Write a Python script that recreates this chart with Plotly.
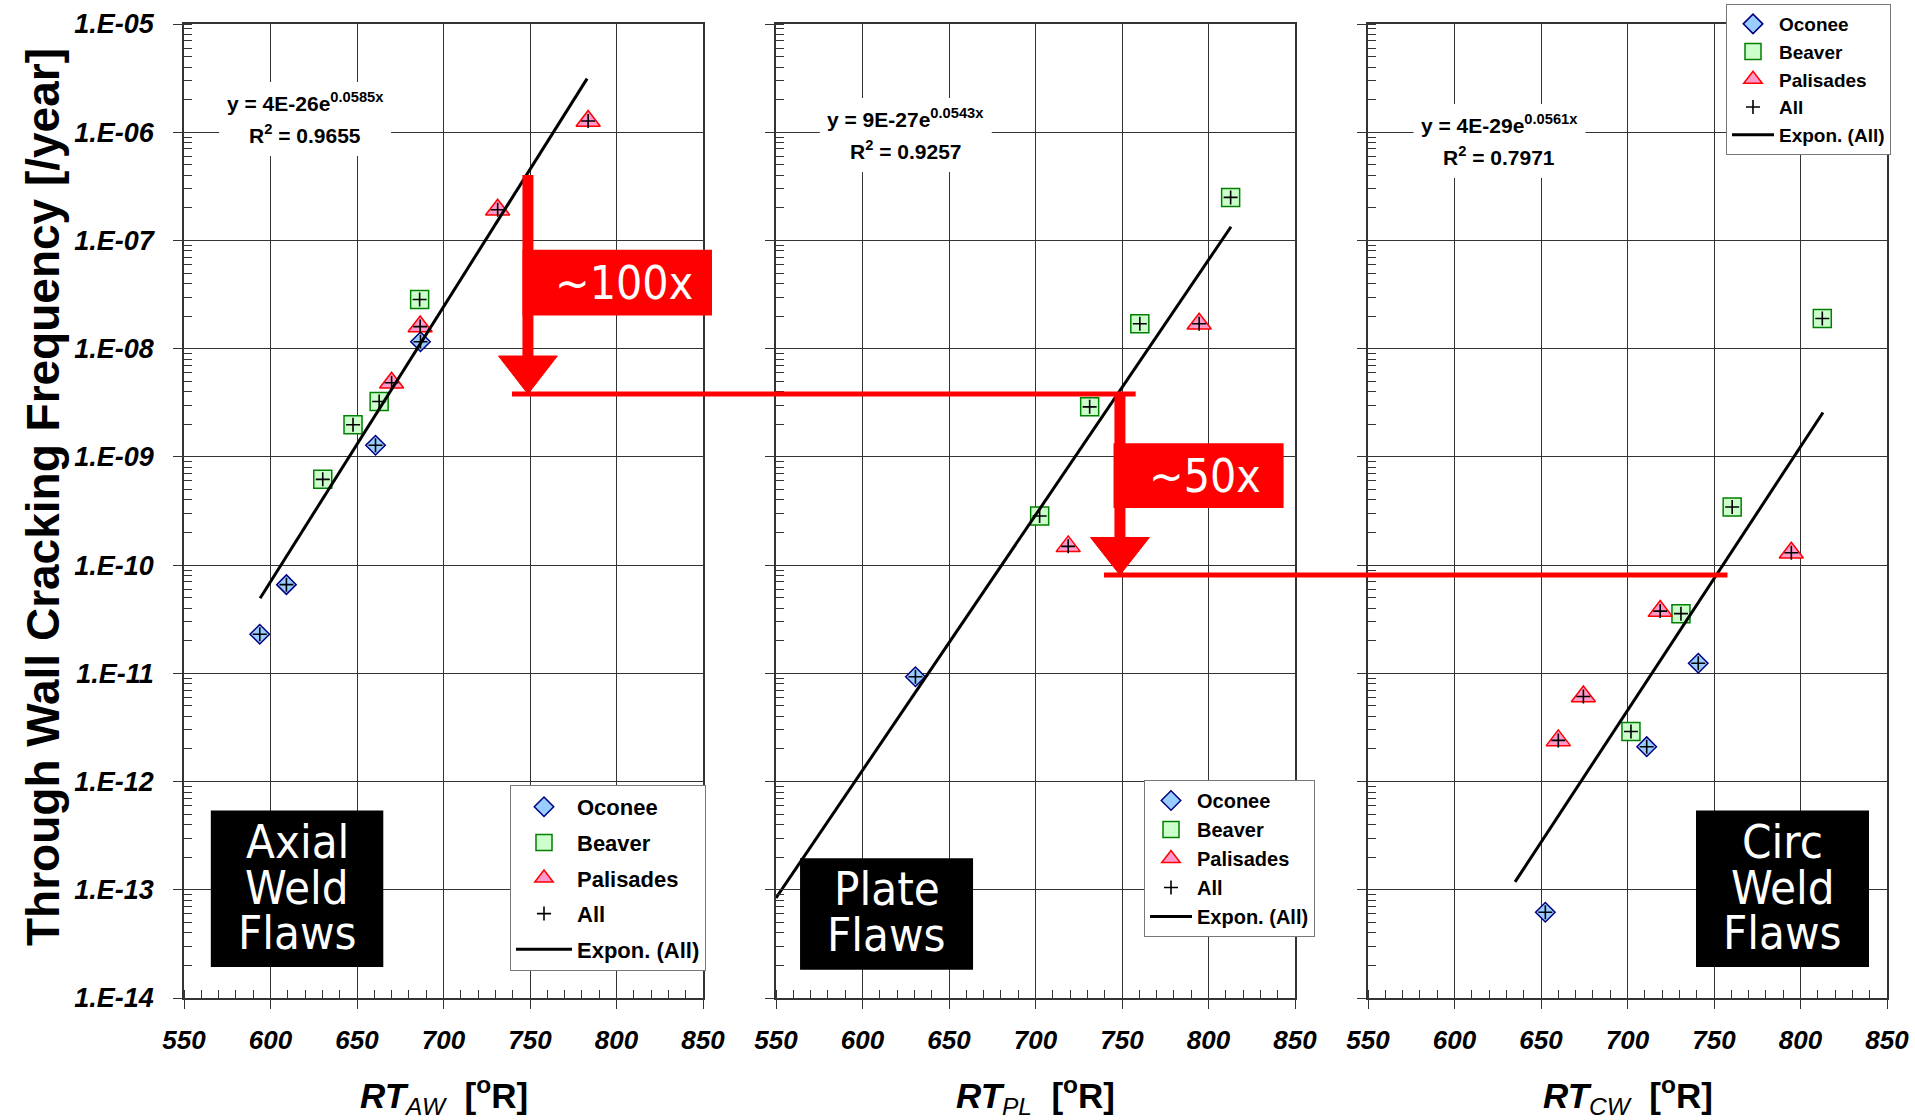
import numpy as np
import plotly.graph_objects as go

# ---------------- data ----------------
SERIES = ["Oconee", "Beaver", "Palisades"]

# Panel 1 : Axial weld flaws
AW_OCONEE_X = [593.8, 609.2, 660.7, 686.7]
AW_OCONEE_Y = [2.3e-11, 6.6e-11, 1.28e-9, 1.16e-8]
AW_BEAVER_X = [630.2, 647.7, 662.8, 686.2]
AW_BEAVER_Y = [6.2e-10, 1.98e-9, 3.25e-9, 2.85e-8]
AW_PALIS_X = [670.0, 686.5, 731.3, 783.6]
AW_PALIS_Y = [4.85e-9, 1.6e-8, 1.92e-7, 1.27e-6]

# Panel 2 : Plate flaws
PL_OCONEE_X = [630.6]
PL_OCONEE_Y = [9.3e-12]
PL_BEAVER_X = [702.4, 731.3, 760.3, 812.8]
PL_BEAVER_Y = [2.84e-10, 2.9e-9, 1.7e-8, 2.5e-7]
PL_PALIS_X = [718.9, 794.6]
PL_PALIS_Y = [1.49e-10, 1.7e-8]

# Panel 3 : Circ weld flaws
CW_OCONEE_X = [652.5, 711.1, 740.9]
CW_OCONEE_Y = [6.2e-14, 2.1e-12, 1.24e-11]
CW_BEAVER_X = [702.0, 730.9, 760.5, 812.6]
CW_BEAVER_Y = [2.9e-12, 3.56e-11, 3.44e-10, 1.9e-8]
CW_PALIS_X = [660.0, 674.5, 718.9, 794.7]
CW_PALIS_Y = [2.4e-12, 6.1e-12, 3.76e-11, 1.3e-10]

# Exponential trend lines as printed on the chart (y = A e^(B x))
TREND_A = [4e-26, 9e-27, 4e-29]
TREND_B = [0.0585, 0.0543, 0.0561]
TREND_X_START = [594, 550, 635]
TREND_X_END = [783, 813, 813]
TREND_A_TXT = ["4E-26", "9E-27", "4E-29"]
TREND_B_TXT = ["0.0585", "0.0543", "0.0561"]
R2_TXT = ["0.9655", "0.9257", "0.7971"]

PANEL_LABELS = [["Axial", "Weld", "Flaws"], ["Plate", "Flaws"], ["Circ", "Weld", "Flaws"]]
X_SUBS = ["AW", "PL", "CW"]

X_TICKS = [550, 600, 650, 700, 750, 800, 850]
Y_TICKS = [1e-14, 1e-13, 1e-12, 1e-11, 1e-10, 1e-9, 1e-8, 1e-7, 1e-6, 1e-5]
Y_TICK_TEXT = ["1.E-14", "1.E-13", "1.E-12", "1.E-11", "1.E-10",
               "1.E-09", "1.E-08", "1.E-07", "1.E-06", "1.E-05"]

FACTOR_TXT = ["~100x", "~50x"]

PANEL_DATA = [
    [(AW_OCONEE_X, AW_OCONEE_Y), (AW_BEAVER_X, AW_BEAVER_Y), (AW_PALIS_X, AW_PALIS_Y)],
    [(PL_OCONEE_X, PL_OCONEE_Y), (PL_BEAVER_X, PL_BEAVER_Y), (PL_PALIS_X, PL_PALIS_Y)],
    [(CW_OCONEE_X, CW_OCONEE_Y), (CW_BEAVER_X, CW_BEAVER_Y), (CW_PALIS_X, CW_PALIS_Y)],
]

# ---------------- styling ----------------
W, H = 1915, 1120
X_DOMAINS = [[184 / W, 703 / W], [776 / W, 1295 / W], [1368 / W, 1887 / W]]
Y_DOMAIN = [1 - 998 / H, 1 - 24 / H]
X_RANGE = [550, 850]
Y_LOG_RANGE = [-14, -5]

ARIAL = "Liberation Sans, Arial, sans-serif"
NARROW = "DejaVu Sans Condensed, DejaVu Sans, sans-serif"
GRID = "#333333"
RED = "#ff0000"

MARKERS = [
    dict(symbol="diamond", size=15, color="#99ccff", line=dict(color="#000080", width=1.5)),
    dict(symbol="square", size=18, color="#ccffcc", line=dict(color="#008000", width=1.5)),
    dict(symbol="triangle-up", size=21, color="#ff99cc", line=dict(color="#ff0000", width=1.5)),
]

LEGENDS = ["legend", "legend2", "legend3"]


def px(panel, xv):
    d = X_DOMAINS[panel]
    return d[0] + (xv - X_RANGE[0]) / (X_RANGE[1] - X_RANGE[0]) * (d[1] - d[0])


def py(yv):
    return Y_DOMAIN[0] + (np.log10(yv) - Y_LOG_RANGE[0]) / (Y_LOG_RANGE[1] - Y_LOG_RANGE[0]) * (Y_DOMAIN[1] - Y_DOMAIN[0])


def py_px(pix):
    # paper y of a pixel row measured from the top of the figure
    return 1 - pix / H


fig = go.Figure()

for p in range(3):
    xa = "x" if p == 0 else f"x{p + 1}"
    ya = "y" if p == 0 else f"y{p + 1}"
    leg = LEGENDS[p]
    all_x, all_y = [], []
    for s, (sx, sy) in enumerate(PANEL_DATA[p]):
        fig.add_trace(go.Scatter(
            x=sx, y=sy, mode="markers", name=SERIES[s], marker=MARKERS[s],
            xaxis=xa, yaxis=ya, legend=leg, legendgroup=f"{leg}_{s}",
        ))
        all_x += list(sx)
        all_y += list(sy)
    fig.add_trace(go.Scatter(
        x=all_x, y=all_y, mode="markers", name="All",
        marker=dict(symbol="cross-thin-open", size=10, color="black",
                    line=dict(color="black", width=1.6)),
        xaxis=xa, yaxis=ya, legend=leg, legendgroup=f"{leg}_all",
    ))
    tx = np.linspace(TREND_X_START[p], TREND_X_END[p], 60)
    fig.add_trace(go.Scatter(
        x=tx, y=TREND_A[p] * np.exp(TREND_B[p] * tx), mode="lines",
        name="Expon. (All)", line=dict(color="black", width=3),
        xaxis=xa, yaxis=ya, legend=leg, legendgroup=f"{leg}_fit",
    ))

axis_common = dict(showline=True, linecolor="#333", linewidth=1.5, mirror=True,
                   showgrid=True, gridcolor=GRID, gridwidth=1, zeroline=False,
                   ticks="outside", ticklen=9, tickwidth=1.2, tickcolor="#333")

layout = dict(
    width=W, height=H,
    margin=dict(l=0, r=0, t=0, b=0, autoexpand=False),
    paper_bgcolor="white", plot_bgcolor="white", showlegend=True,
)

for p in range(3):
    xk = "xaxis" if p == 0 else f"xaxis{p + 1}"
    yk = "yaxis" if p == 0 else f"yaxis{p + 1}"
    ya = "y" if p == 0 else f"y{p + 1}"
    xa = "x" if p == 0 else f"x{p + 1}"
    layout[xk] = dict(
        axis_common, domain=X_DOMAINS[p], range=X_RANGE, anchor=ya,
        tickvals=X_TICKS, ticktext=[str(v) for v in X_TICKS],
        tickfont=dict(family=ARIAL, size=26, color="black", weight="bold", style="italic"),
        ticklabelstandoff=9,
        minor=dict(dtick=10, tick0=550, ticks="inside", ticklen=8, tickcolor="#333", showgrid=False),
    )
    layout[yk] = dict(
        axis_common, domain=Y_DOMAIN, type="log", range=Y_LOG_RANGE, anchor=xa,
        tickvals=Y_TICKS, ticktext=Y_TICK_TEXT, showticklabels=(p == 0),
        tickfont=dict(family=ARIAL, size=27, color="black", weight="bold", style="italic"),
        ticklabelstandoff=14,
        minor=dict(dtick="D1", ticks="inside", ticklen=8, tickcolor="#333", showgrid=False),
    )

legend_common = dict(bgcolor="white", bordercolor="#777", borderwidth=1,
                     xanchor="left", yanchor="top", traceorder="grouped")
legend_font = dict(family=ARIAL, color="black", weight="bold")
layout["legend"] = dict(legend_common, x=510 / W, y=py_px(785), tracegroupgap=4, itemwidth=56,
                        font=dict(legend_font, size=22))
layout["legend2"] = dict(legend_common, x=1144 / W, y=py_px(780), tracegroupgap=0, itemwidth=42,
                         font=dict(legend_font, size=20))
layout["legend3"] = dict(legend_common, x=1726 / W, y=py_px(4), tracegroupgap=0, itemwidth=42,
                         font=dict(legend_font, size=19))

fig.update_layout(**layout)

shapes = []
annotations = []

# Equation labels (white background boxes hiding the grid)
EQ_X = [620, 625, 626]
EQ_LINE_PIX = [(102, 134), (118, 150), (124, 156)]
for p in range(3):
    cx = px(p, EQ_X[p])
    shapes.append(dict(type="rect", xref="paper", yref="paper", layer="above",
                       x0=cx - 86 / W, x1=cx + 86 / W,
                       y0=py_px(EQ_LINE_PIX[p][1] + 22), y1=py_px(EQ_LINE_PIX[p][0] - 20),
                       fillcolor="white", line=dict(width=0)))
    annotations.append(dict(
        xref="paper", yref="paper", x=cx, y=py_px(EQ_LINE_PIX[p][0]),
        text=f"y = {TREND_A_TXT[p]}e<sup>{TREND_B_TXT[p]}x</sup>", showarrow=False,
        font=dict(family=ARIAL, size=21, color="black", weight="bold"), xanchor="center", yanchor="middle"))
    annotations.append(dict(
        xref="paper", yref="paper", x=cx, y=py_px(EQ_LINE_PIX[p][1]),
        text=f"R<sup>2</sup> = {R2_TXT[p]}", showarrow=False,
        font=dict(family=ARIAL, size=21, color="black", weight="bold"), xanchor="center", yanchor="middle"))

# Black panel labels
LABEL_BOX_X = [(565.5, 665.2), (563.9, 663.9), (739.6, 839.6)]
LABEL_BOX_Y = [(1.93e-14, 5.4e-13), (1.82e-14, 1.96e-13), (1.93e-14, 5.4e-13)]
LABEL_LINE_Y = [[2.83e-13, 1.06e-13, 4.07e-14], [1.04e-13, 3.9e-14], [2.83e-13, 1.06e-13, 4.07e-14]]
for p in range(3):
    x0, x1 = LABEL_BOX_X[p]
    y0, y1 = LABEL_BOX_Y[p]
    shapes.append(dict(type="rect", xref="paper", yref="paper", layer="above",
                       x0=px(p, x0), x1=px(p, x1), y0=py(y0), y1=py(y1),
                       fillcolor="black", line=dict(width=0)))
    for word, yv in zip(PANEL_LABELS[p], LABEL_LINE_Y[p]):
        annotations.append(dict(xref="paper", yref="paper", x=px(p, (x0 + x1) / 2), y=py(yv),
                                text=word, showarrow=False, xanchor="center", yanchor="middle",
                                height=44,
                                font=dict(family=NARROW, size=47, color="white")))

# Red comparison arrows
SHAFT_X = 748.8
LINE1_Y, LINE2_Y = 3.81e-9, 8.1e-11
shapes.append(dict(type="line", xref="paper", yref="paper", layer="above",
                   x0=px(0, 739.6), x1=px(1, 757.9), y0=py(LINE1_Y), y1=py(LINE1_Y),
                   line=dict(color=RED, width=5)))
shapes.append(dict(type="line", xref="paper", yref="paper", layer="above",
                   x0=px(1, 739.6), x1=px(2, 757.8), y0=py(LINE2_Y), y1=py(LINE2_Y),
                   line=dict(color=RED, width=5)))
shapes.append(dict(type="line", xref="paper", yref="paper", layer="above",
                   x0=px(0, SHAFT_X), x1=px(0, SHAFT_X), y0=py(4.03e-7), y1=py(8.0e-9),
                   line=dict(color=RED, width=11)))
shapes.append(dict(type="line", xref="paper", yref="paper", layer="above",
                   x0=px(1, SHAFT_X), x1=px(1, SHAFT_X), y0=py(LINE1_Y), y1=py(1.7e-10),
                   line=dict(color=RED, width=11)))
for p, base_y, tip_y in [(0, 8.55e-9, LINE1_Y), (1, 1.8e-10, LINE2_Y)]:
    xl, xr, xc = px(p, SHAFT_X - 17), px(p, SHAFT_X + 17), px(p, SHAFT_X)
    yb, yt = py(base_y), py(tip_y)
    shapes.append(dict(type="path", xref="paper", yref="paper", layer="above",
                       path=f"M {xl} {yb} L {xr} {yb} L {xc} {yt} Z",
                       fillcolor=RED, line=dict(color=RED, width=1)))
FACTOR_BOX = [(0, 745.7, 855.2, 2.02e-8, 8.2e-8), (1, 745.1, 843.4, 3.37e-10, 1.34e-9)]
for (p, bx0, bx1, by0, by1), txt in zip(FACTOR_BOX, FACTOR_TXT):
    shapes.append(dict(type="rect", xref="paper", yref="paper", layer="above",
                       x0=px(p, bx0), x1=px(p, bx1), y0=py(by0), y1=py(by1),
                       fillcolor=RED, line=dict(width=0)))
    annotations.append(dict(xref="paper", yref="paper",
                            x=(px(p, bx0 + 8) + px(p, bx1)) / 2, y=(py(by0) + py(by1)) / 2,
                            text=txt, showarrow=False, xanchor="center", yanchor="middle",
                            font=dict(family=NARROW, size=46, color="white")))

# Axis titles
for p in range(3):
    annotations.append(dict(
        xref="paper", yref="paper", x=(X_DOMAINS[p][0] + X_DOMAINS[p][1]) / 2, y=py_px(1095),
        text=f"<b><i>RT</i></b><i><sub>{X_SUBS[p]}</sub></i>&nbsp;&nbsp;<b>[<sup>o</sup>R]</b>",
        showarrow=False, xanchor="center", yanchor="middle",
        font=dict(family=ARIAL, size=35, color="black")))
annotations.append(dict(
    xref="paper", yref="paper", x=43 / W, y=py_px(497), textangle=-90,
    text="Through Wall Cracking Frequency [/year]", showarrow=False,
    xanchor="center", yanchor="middle",
    font=dict(family=ARIAL, size=46, color="black", weight="bold")))

fig.update_layout(shapes=shapes, annotations=annotations)

fig.write_html("out.html", config={"displayModeBar": False},
               post_script="document.body.style.margin='0';document.body.style.overflow='hidden';")
